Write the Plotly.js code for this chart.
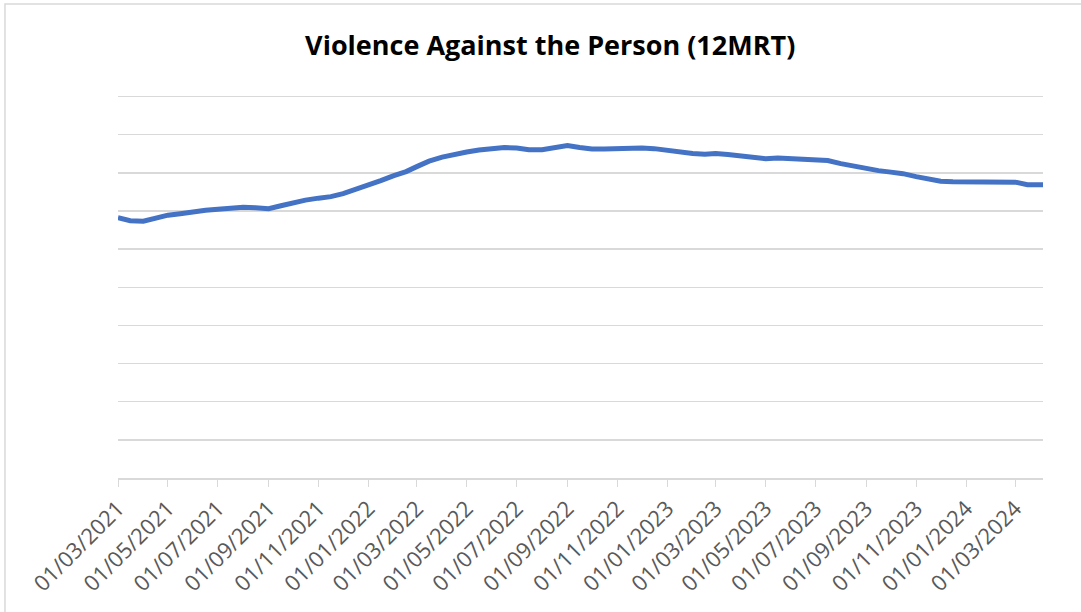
<!DOCTYPE html>
<html>
<head>
<meta charset="utf-8">
<script src="https://cdn.plot.ly/plotly-3.0.1.min.js"></script>
<style>html,body{margin:0;padding:0;background:#fff;}#chart{width:1081px;height:612px;}</style>
</head>
<body>
<div id="chart"></div>
<script>
// Dates (semi-monthly readings) and 12-month rolling totals
const dates = [
 '2021-03-01','2021-03-16','2021-04-01','2021-04-16','2021-05-01','2021-05-16','2021-06-01','2021-06-16',
 '2021-07-01','2021-07-16','2021-08-01','2021-08-16','2021-09-01','2021-09-16','2021-10-01','2021-10-16',
 '2021-11-01','2021-11-16','2021-12-01','2021-12-16','2022-01-01','2022-01-16','2022-02-01','2022-02-16',
 '2022-03-01','2022-03-16','2022-04-01','2022-04-16','2022-05-01','2022-05-16','2022-06-01','2022-06-16',
 '2022-07-01','2022-07-16','2022-08-01','2022-08-16','2022-09-01','2022-09-16','2022-10-01','2022-10-16',
 '2022-11-01','2022-11-16','2022-12-01','2022-12-16','2023-01-01','2023-01-16','2023-02-01','2023-02-16',
 '2023-03-01','2023-03-16','2023-04-01','2023-04-16','2023-05-01','2023-05-16','2023-06-01','2023-06-16',
 '2023-07-01','2023-07-16','2023-08-01','2023-08-16','2023-09-01','2023-09-16','2023-10-01','2023-10-16',
 '2023-11-01','2023-11-16','2023-12-01','2023-12-16','2024-01-01','2024-01-16','2024-02-01','2024-02-16',
 '2024-03-01','2024-03-16','2024-04-01','2024-04-04'
];
const values = [
 34120,33730,33660,34120,34450,34640,34910,35100,
 35240,35370,35500,35430,35300,35690,36090,36420,
 36680,36880,37270,37790,38320,38980,39630,40160,
 40810,41530,42060,42450,42720,42980,43170,43310,
 43240,43040,43040,43240,43570,43310,43110,43110,
 43170,43170,43240,43170,42910,42720,42520,42450,
 42520,42390,42190,41990,41860,41930,41860,41860,
 41800,41600,41210,40880,40480,40290,40090,39890,
 39500,39170,38910,38840,38840,38840,38780,38710,
 38780,38450,38450,38450
];
const tickDates = [
 '2021-03-01','2021-05-01','2021-07-01','2021-09-01','2021-11-01','2022-01-01','2022-03-01',
 '2022-05-01','2022-07-01','2022-09-01','2022-11-01','2023-01-01','2023-03-01','2023-05-01',
 '2023-07-01','2023-09-01','2023-11-01','2024-01-01','2024-03-01'
];
const tickLabels = [
 '01/03/2021','01/05/2021','01/07/2021','01/09/2021','01/11/2021','01/01/2022','01/03/2022',
 '01/05/2022','01/07/2022','01/09/2022','01/11/2022','01/01/2023','01/03/2023','01/05/2023',
 '01/07/2023','01/09/2023','01/11/2023','01/01/2024','01/03/2024'
];
const titleText = 'Violence Against the Person (12MRT)';

const trace = {
  x: dates, y: values, type: 'scatter', mode: 'lines',
  line: {color: '#4472c4', width: 5, shape: 'linear'},
  hoverinfo: 'x+y'
};

const layout = {
  width: 1081, height: 612,
  margin: {l: 118, r: 38, t: 95, b: 134},
  paper_bgcolor: '#ffffff', plot_bgcolor: '#ffffff',
  showlegend: false,
  title: {text: '<b>' + titleText + '</b>', x: 0.509, xanchor: 'center', y: 0.926, yanchor: 'middle',
          font: {family: 'Open Sans, Noto Sans, sans-serif', size: 27, color: '#000000'}},
  xaxis: {
    type: 'date', range: ['2021-03-01', '2024-04-04'],
    tickmode: 'array', tickvals: tickDates, ticktext: tickLabels,
    tickangle: -45, ticks: 'outside', ticklen: 7, tickcolor: '#d9d9d9', tickwidth: 1,
    tickfont: {family: 'Open Sans, Noto Sans, sans-serif', size: 22, color: '#595959'},
    showgrid: false, showline: true, linecolor: '#d9d9d9', linewidth: 2,
    zeroline: false, automargin: false
  },
  yaxis: {
    range: [0, 50200], dtick: 5000, tick0: 0,
    showticklabels: false, ticks: '',
    showgrid: true, gridcolor: '#d9d9d9', gridwidth: 1.5,
    zeroline: false, showline: false, automargin: false
  },
  shapes: [{
    type: 'rect', xref: 'paper', yref: 'paper',
    x0: -0.1222, x1: 1.2, y0: -0.6, y1: 1.2376,
    line: {color: '#d9d9d9', width: 1.5}, fillcolor: 'rgba(0,0,0,0)', layer: 'below'
  }]
};

Plotly.newPlot('chart', [trace], layout, {displayModeBar: false, staticPlot: true});
</script>
</body>
</html>
